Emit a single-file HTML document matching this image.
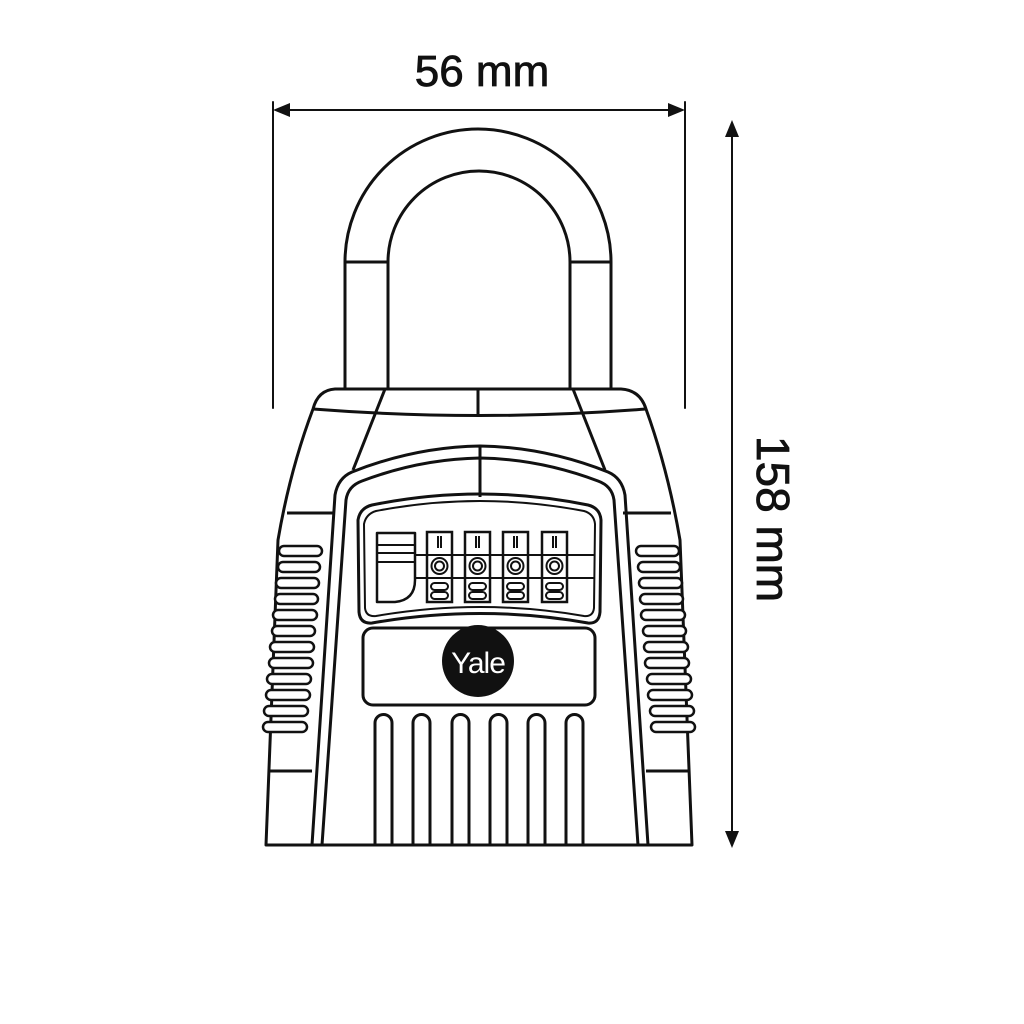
<!DOCTYPE html>
<html><head><style>html,body{margin:0;padding:0;background:#fff}svg{display:block}</style></head>
<body>
<svg width="1024" height="1024" viewBox="0 0 1024 1024" xmlns="http://www.w3.org/2000/svg">
<g fill="none" stroke="#111" stroke-width="3" stroke-linecap="round" stroke-linejoin="round">
<line x1="273" y1="102" x2="273" y2="408" stroke-width="2"/>
<line x1="685" y1="102" x2="685" y2="408" stroke-width="2"/>
<line x1="278" y1="110" x2="680" y2="110" stroke-width="2"/>
<line x1="732" y1="128" x2="732" y2="840" stroke-width="2"/>
</g>
<g fill="#111">
<polygon points="273,110 290,103 290,117"/>
<polygon points="685,110 668,103 668,117"/>
<polygon points="732,120 725,137 739,137"/>
<polygon points="732,848 725,831 739,831"/>
</g>
<text x="482" y="86" font-family="Liberation Sans, sans-serif" font-size="44" text-anchor="middle" fill="#111" stroke="#111" stroke-width="0.8">56 mm</text>
<text transform="translate(757,519) rotate(90)" font-family="Liberation Sans, sans-serif" font-size="46" text-anchor="middle" fill="#111" stroke="#111" stroke-width="0.8">158 mm</text>

<g fill="none" stroke="#111" stroke-width="3" stroke-linejoin="round">
<path d="M345,390 V262 A133,133 0 0 1 611,262 V390"/>
<path d="M388,390 V262 A91,91 0 0 1 570,262 V390"/>
<line x1="345" y1="262" x2="388" y2="262"/>
<line x1="570" y1="262" x2="611" y2="262"/>
<path d="M335,389 H621 Q640,390 646,409 Q668,470 680,540 L692,845 H266 L278,540 Q290,470 313,409 Q318,390 335,389 Z"/>
<path d="M313,409 Q480,422 646,409"/>
<line x1="478" y1="389" x2="478" y2="415"/>
<line x1="385" y1="389" x2="353" y2="470"/>
<line x1="573" y1="389" x2="605" y2="470"/>
<line x1="287" y1="513" x2="335" y2="513"/>
<line x1="623" y1="513" x2="671" y2="513"/>
<line x1="268" y1="771" x2="312" y2="771"/>
<line x1="646" y1="771" x2="690" y2="771"/>
<line x1="480" y1="447" x2="480" y2="497"/>
<path d="M312,845 L335,495 Q338,478 352,472 Q415,447 480,446 Q545,447 608,472 Q622,478 625,495 L648,845"/>
<path d="M322,845 L346,500 Q348,486 362,481 Q420,459 480,458 Q540,459 598,481 Q612,486 614,500 L638,845"/>
<path d="M358,520 Q360,508 372,505 Q480,483 588,505 Q600,508 601,520 L600,612 Q599,624 588,623 Q480,604 372,623 Q360,624 359,612 Z"/>
<path d="M364,524 Q366,514 376,511 Q480,491 584,511 Q594,514 595,524 L594,608 Q593,617 584,616 Q480,598 376,616 Q366,617 365,608 Z" stroke-width="2"/>
<line x1="415" y1="555" x2="594" y2="555" stroke-width="2"/>
<line x1="415" y1="578" x2="594" y2="578" stroke-width="2"/>
<path d="M377,533 H415 V580 Q415,600 395,602 H377 Z" stroke-width="2.5"/>
<line x1="377" y1="545" x2="415" y2="545" stroke-width="2"/>
<line x1="377" y1="553" x2="415" y2="553" stroke-width="2"/>
<line x1="377" y1="562" x2="415" y2="562" stroke-width="2"/>
</g>
<g fill="#fff" stroke="#111" stroke-width="2.5">
<rect x="427" y="532" width="25" height="70"/>
<rect x="465" y="532" width="25" height="70"/>
<rect x="503" y="532" width="25" height="70"/>
<rect x="542" y="532" width="25" height="70"/>
</g>
<g fill="none" stroke="#111" stroke-width="2">
<line x1="427" y1="555" x2="567" y2="555"/><line x1="427" y1="578" x2="567" y2="578"/>
<circle cx="439.5" cy="566" r="8"/><circle cx="439.5" cy="566" r="4.5"/>
<circle cx="477.5" cy="566" r="8"/><circle cx="477.5" cy="566" r="4.5"/>
<circle cx="515.5" cy="566" r="8"/><circle cx="515.5" cy="566" r="4.5"/>
<circle cx="554.5" cy="566" r="8"/><circle cx="554.5" cy="566" r="4.5"/>
<rect x="431" y="583" width="17" height="7" rx="3.5"/><rect x="431" y="592" width="17" height="7" rx="3.5"/>
<rect x="469" y="583" width="17" height="7" rx="3.5"/><rect x="469" y="592" width="17" height="7" rx="3.5"/>
<rect x="507" y="583" width="17" height="7" rx="3.5"/><rect x="507" y="592" width="17" height="7" rx="3.5"/>
<rect x="546" y="583" width="17" height="7" rx="3.5"/><rect x="546" y="592" width="17" height="7" rx="3.5"/>
<line x1="438" y1="536" x2="438" y2="548"/><line x1="441" y1="536" x2="441" y2="548"/>
<line x1="476" y1="536" x2="476" y2="548"/><line x1="479" y1="536" x2="479" y2="548"/>
<line x1="514" y1="536" x2="514" y2="548"/><line x1="517" y1="536" x2="517" y2="548"/>
<line x1="553" y1="536" x2="553" y2="548"/><line x1="556" y1="536" x2="556" y2="548"/>
</g>
<g fill="none" stroke="#111" stroke-width="3">
<rect x="363" y="628" width="232" height="77" rx="10"/>
<path d="M375,845 V723 A8.5,8.5 0 0 1 392,723 V845"/>
<path d="M413,845 V723 A8.5,8.5 0 0 1 430,723 V845"/>
<path d="M452,845 V723 A8.5,8.5 0 0 1 469,723 V845"/>
<path d="M490,845 V723 A8.5,8.5 0 0 1 507,723 V845"/>
<path d="M528,845 V723 A8.5,8.5 0 0 1 545,723 V845"/>
<path d="M566,845 V723 A8.5,8.5 0 0 1 583,723 V845"/>
</g>
<circle cx="478" cy="661" r="36" fill="#111"/>
<text x="478" y="673" font-family="Liberation Sans, sans-serif" font-size="30" text-anchor="middle" fill="#fff" letter-spacing="-1">Yale</text>
<g fill="#fff" stroke="#111" stroke-width="2.5">
<rect x="279" y="546" width="43" height="10" rx="5"/>
<rect x="278" y="562" width="42" height="10" rx="5"/>
<rect x="276" y="578" width="43" height="10" rx="5"/>
<rect x="275" y="594" width="43" height="10" rx="5"/>
<rect x="273" y="610" width="44" height="10" rx="5"/>
<rect x="272" y="626" width="43" height="10" rx="5"/>
<rect x="270" y="642" width="44" height="10" rx="5"/>
<rect x="269" y="658" width="44" height="10" rx="5"/>
<rect x="267" y="674" width="44" height="10" rx="5"/>
<rect x="266" y="690" width="44" height="10" rx="5"/>
<rect x="264" y="706" width="44" height="10" rx="5"/>
<rect x="263" y="722" width="44" height="10" rx="5"/>
<rect x="636" y="546" width="43" height="10" rx="5"/>
<rect x="638" y="562" width="42" height="10" rx="5"/>
<rect x="639" y="578" width="43" height="10" rx="5"/>
<rect x="640" y="594" width="43" height="10" rx="5"/>
<rect x="641" y="610" width="44" height="10" rx="5"/>
<rect x="643" y="626" width="43" height="10" rx="5"/>
<rect x="644" y="642" width="44" height="10" rx="5"/>
<rect x="645" y="658" width="44" height="10" rx="5"/>
<rect x="647" y="674" width="44" height="10" rx="5"/>
<rect x="648" y="690" width="44" height="10" rx="5"/>
<rect x="650" y="706" width="44" height="10" rx="5"/>
<rect x="651" y="722" width="44" height="10" rx="5"/>
</g>
</svg>
</body></html>
